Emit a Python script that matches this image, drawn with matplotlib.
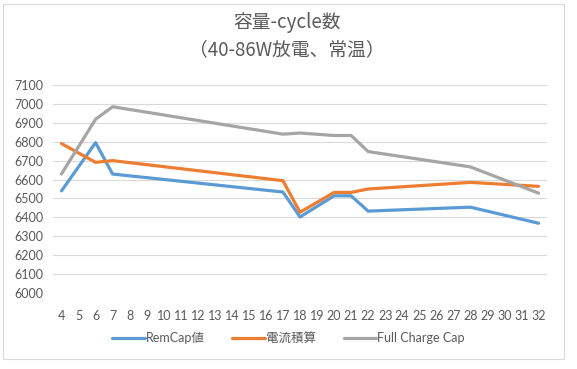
import matplotlib
matplotlib.use("Agg")
import matplotlib.pyplot as plt
from matplotlib.patches import Rectangle

plt.rcParams['font.family'] = ['Lato', 'Noto Sans CJK JP', 'DejaVu Sans']

cycles = [4, 6, 7, 17, 18, 20, 21, 22, 28, 32]
remcap = [6540, 6795, 6629, 6534, 6402, 6514, 6514, 6433, 6454, 6369]
current_integral = [6790, 6691, 6700, 6594, 6427, 6532, 6532, 6550, 6585, 6564]
full_charge = [6630, 6919, 6985, 6840, 6846, 6833, 6833, 6748, 6667, 6528]
series_names = ["RemCap値", "電流積算", "Full Charge Cap"]
x_labels = list(range(4, 33))
y_ticks = list(range(6000, 7101, 100))
title = "容量-cycle数\n（40-86W放電、常温）"

fig = plt.figure(figsize=(5.77, 3.69), dpi=100)
ax = fig.add_axes([53/577, 1 - 293/369, (547-53)/577, (293-85)/369])

colors = ["#5B9BD5", "#ED7D31", "#A5A5A5"]
for vals, name, c in zip([remcap, current_integral, full_charge], series_names, colors):
    ax.plot(cycles, vals, color=c, lw=2.3, label=name, solid_capstyle='round', solid_joinstyle='round')

ax.set_xlim(3.5, 32.5)
ax.set_ylim(6000, 7100)
ax.set_xticks(x_labels)
ax.set_xticklabels([str(v) for v in x_labels])
ax.set_yticks(y_ticks)
ax.grid(axis='y', color='#D9D9D9', lw=0.8)
ax.set_axisbelow(True)
for s in ax.spines.values():
    s.set_visible(False)
ax.tick_params(length=0, labelsize=9, colors='#595959', pad=7)
ax.tick_params(axis='x', pad=12)

fig.text(0.497, 1 - 36/369, title, ha='center', va='center', fontsize=13.5,
         color='#595959', linespacing=1.35, family=['Noto Sans CJK JP', 'DejaVu Sans'])

leg = fig.legend(loc='center', bbox_to_anchor=(0.50, 1 - 338/369), ncol=3, frameon=False,
                 fontsize=9, handlelength=2.6, columnspacing=2.2, handletextpad=0.1)
for t in leg.get_texts():
    t.set_color('#595959')

fig.patches.append(Rectangle((3/577, 1 - 359/369), (564-3)/577, (359-4)/369,
                             transform=fig.transFigure, fill=False, ec='#D9D9D9', lw=0.8))

fig.savefig("out.png", dpi=100)
